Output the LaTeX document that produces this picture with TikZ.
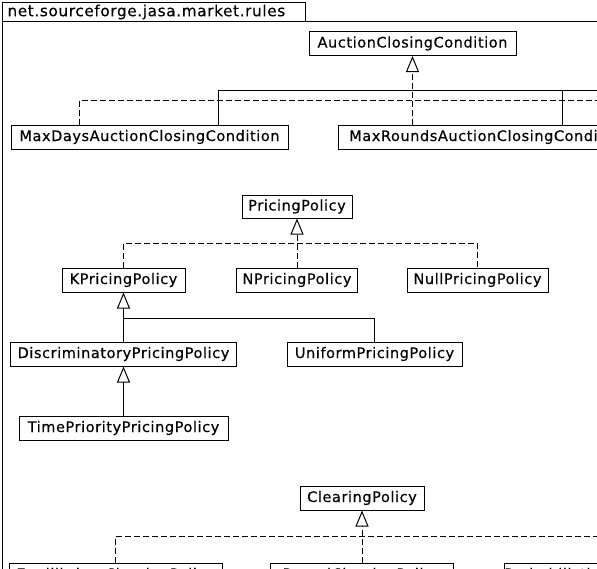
\documentclass[tikz,border=0pt]{standalone}
\usepackage{fontspec}
\setmainfont{DejaVu Sans}[LetterSpace=4, FakeBold=0.35]
\usetikzlibrary{arrows.meta}
\tikzset{
  cls/.style={draw, line width=1pt, fill=white, inner sep=0pt, minimum height=24pt,
    font=\fontsize{14.5}{17}\selectfont},
  ln/.style={line width=1pt},
  dln/.style={line width=1pt, dash pattern=on 6pt off 3pt},
  gen/.style={ln, -{Triangle[open, length=16pt, width=13pt]}},
  real/.style={dln, -{Triangle[open, length=16pt, width=13pt]}},
}
\begin{document}
\begin{tikzpicture}[x=1pt, y=-1pt]
\useasboundingbox (0,0) rectangle (597,568);
\clip (0,0) rectangle (597,568);
% package frame
\draw[ln] (2,600) -- (2,21) -- (620,21);
\node[draw, line width=1pt, inner sep=0pt, anchor=north west, minimum width=303pt, minimum height=19pt,
  font=\fontsize{15.3}{17}\selectfont, text width=300pt, align=left] (pkg) at (2,2) {\hspace*{3.5pt}net.sourceforge.jasa.market.rules};
% auction closing conditions
\node[cls, minimum width=207pt] (acc) at (412.5,43.5) {AuctionClosingCondition};
\node[cls, minimum width=277pt] (mdays) at (149.5,137) {MaxDaysAuctionClosingCondition};
\node[cls, minimum width=300pt, anchor=west] (mrounds) at (338,137) {MaxRoundsAuctionClosingCondition};
\coordinate (ad) at (79,100);
\coordinate (adR) at (620,100);
\coordinate (as) at (218,90);
\coordinate (asR) at (620,90);
\coordinate (ar) at (562,90);
\draw[dln] (mdays.north -| ad) -- (ad) -- (adR);
\draw[real] (mrounds.north -| acc.south) -- (acc.south);
\draw[ln] (mdays.north -| as) -- (as) -- (asR);
\draw[ln] (mrounds.north -| ar) -- (ar);
% pricing policies
\node[cls, minimum width=110pt, minimum height=23pt] (pp) at (297,206.5) {PricingPolicy};
\node[cls, minimum width=123pt] (kpp) at (123.5,280) {KPricingPolicy};
\node[cls, minimum width=121pt] (npp) at (297,280) {NPricingPolicy};
\node[cls, minimum width=141pt] (nullpp) at (477.5,280) {NullPricingPolicy};
\node[cls, minimum width=226pt] (dpp) at (123.5,354) {DiscriminatoryPricingPolicy};
\node[cls, minimum width=175pt] (upp) at (374.5,354) {UniformPricingPolicy};
\node[cls, minimum width=209pt] (tpp) at (123.5,428) {TimePriorityPricingPolicy};
\coordinate (ph) at (0,243);
\coordinate (sh) at (0,318);
\draw[dln] (kpp.north) -- (kpp.north |- ph) -- (nullpp.north |- ph) -- (nullpp.north);
\draw[real] (npp.north) -- (pp.south);
\draw[gen] (dpp.north) -- (kpp.south);
\draw[ln] (upp.north) -- (upp.north |- sh) -- (dpp.north |- sh);
\draw[gen] (tpp.north) -- (dpp.south);
% clearing policies
\node[cls, minimum width=124pt] (cp) at (362,498) {ClearingPolicy};
\node[cls, minimum width=213pt] (c1) at (115.5,575) {EquilibriumClearingPolicy};
\node[cls, minimum width=183pt] (c2) at (362,575) {RoundClearingPolicy};
\node[cls, minimum width=200pt, anchor=west] (c3) at (504,575) {ProbabilisticClearingPolicy};
\coordinate (ch) at (0,536);
\coordinate (chR) at (620,536);
\draw[dln] (c1.north) -- (c1.north |- ch) -- (chR);
\draw[real] (c2.north) -- (cp.south);
\end{tikzpicture}
\end{document}
